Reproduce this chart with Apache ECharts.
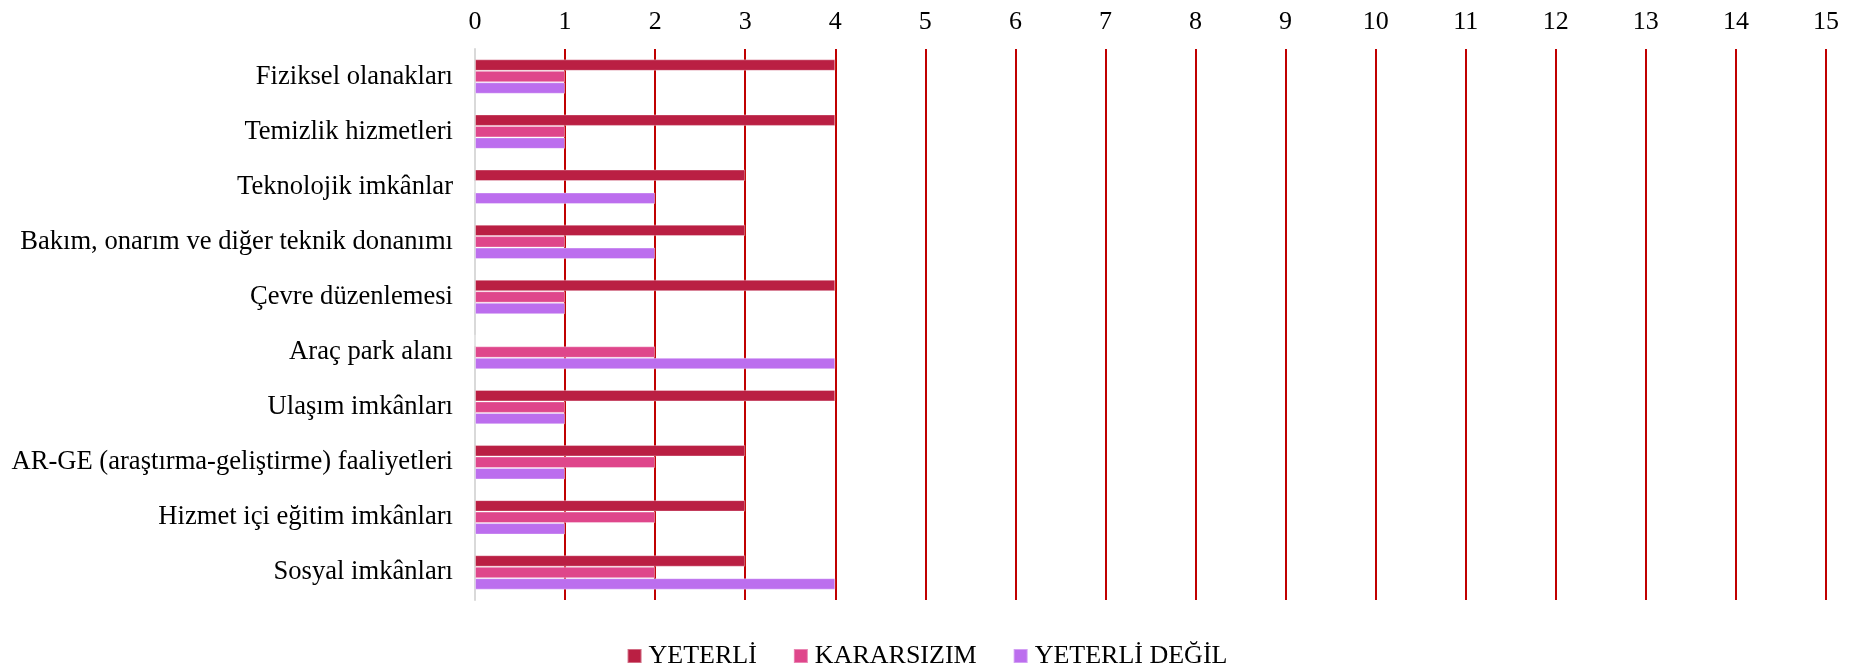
<!DOCTYPE html>
<html>
<head>
<meta charset="utf-8">
<script src="https://cdn.jsdelivr.net/npm/echarts@6/dist/echarts.min.js"></script>
<style>
html,body{margin:0;padding:0;background:#fff;}
#c{width:1854px;height:668px;}
</style>
</head>
<body>
<div id="c"></div>
<script>
const categories = [
  "Fiziksel olanakları",
  "Temizlik hizmetleri",
  "Teknolojik imkânlar",
  "Bakım, onarım ve diğer teknik donanımı",
  "Çevre düzenlemesi",
  "Araç park alanı",
  "Ulaşım imkânları",
  "AR-GE (araştırma-geliştirme) faaliyetleri",
  "Hizmet içi eğitim imkânları",
  "Sosyal imkânları"
];
const yeterli      = [4, 4, 3, 3, 4, 0, 4, 3, 3, 3];
const kararsizim   = [1, 1, 0, 1, 1, 2, 1, 2, 2, 2];
const yeterliDegil = [1, 1, 2, 2, 1, 4, 1, 1, 1, 4];
const seriesNames = ["YETERLİ", "KARARSIZIM", "YETERLİ DEĞİL"];
const colors = ["#BA1F43", "#DF468B", "#BC6EEE"];

const font = "'Liberation Serif', 'Times New Roman', serif";
const chart = echarts.init(document.getElementById('c'), null, {renderer: 'canvas'});
const mk = (name, data, color) => ({
  name: name,
  type: 'bar',
  data: data,
  barGap: '0%',
  barCategoryGap: '37.5%',
  itemStyle: {color: color, borderColor: 'rgba(255,255,255,0.35)', borderWidth: 1},
  emphasis: {disabled: true}
});
chart.setOption({
  animation: false,
  textStyle: {fontFamily: font},
  grid: {left: 475, right: 28, top: 49, bottom: 68, containLabel: false},
  legend: {
    data: seriesNames,
    top: 638,
    left: 'center',
    icon: 'rect',
    itemWidth: 14,
    itemHeight: 14,
    itemGap: 36,
    textStyle: {fontFamily: font, fontSize: 26, color: '#000', padding: [0, 0, 0, 2]}
  },
  xAxis: {
    type: 'value',
    position: 'top',
    min: 0,
    max: 15,
    interval: 1,
    axisLine: {show: false},
    axisTick: {show: false},
    axisLabel: {fontFamily: font, fontSize: 26, color: '#000', margin: 14},
    splitLine: {show: true, lineStyle: {color: '#C00000', width: 2}}
  },
  yAxis: {
    type: 'category',
    inverse: true,
    data: categories,
    axisLine: {show: true, lineStyle: {color: '#D9D9D9', width: 2}},
    axisTick: {show: false},
    axisLabel: {fontFamily: font, fontSize: 26.6, color: '#000', margin: 22}
  },
  series: [
    mk(seriesNames[0], yeterli, colors[0]),
    mk(seriesNames[1], kararsizim, colors[1]),
    mk(seriesNames[2], yeterliDegil, colors[2])
  ]
});
</script>
</body>
</html>
